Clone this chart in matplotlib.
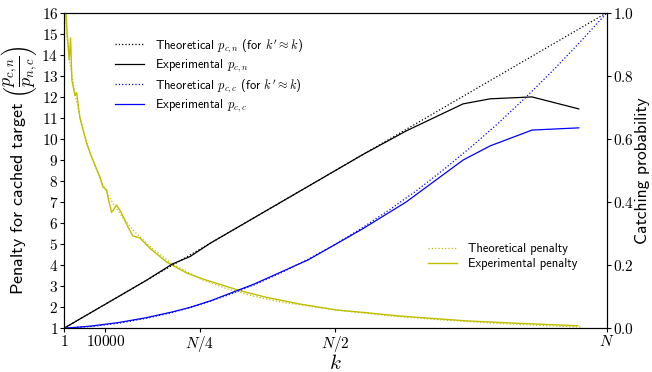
import matplotlib
matplotlib.use("Agg")
import matplotlib.pyplot as plt
import numpy as np

plt.rcParams["mathtext.fontset"] = "cm"
plt.rcParams["font.family"] = ["cmss10", "DejaVu Sans"]
plt.rcParams["axes.unicode_minus"] = False

N = 131072  # number of targets (x axis runs from 1 to N)

# experimental catching probabilities, k given as fraction of N
K_EXP = [0.0, 0.05, 0.10, 0.15, 0.20, 0.232, 0.27, 0.35, 0.45, 0.55, 0.63,
         0.735, 0.785, 0.862, 0.948]
PCN_EXP = [0.0, 0.05, 0.10, 0.15, 0.204, 0.227, 0.27, 0.35, 0.45, 0.55, 0.625,
           0.711, 0.727, 0.733, 0.695]
PCC_EXP = [0.0, 0.007, 0.018, 0.033, 0.052, 0.066, 0.087, 0.14, 0.217, 0.315,
           0.40, 0.533, 0.578, 0.628, 0.635]

# theoretical catching probabilities
K_TH_N = [0.0, 1.0]
PCN_TH = [0.0, 1.0]
K_TH_C = [0.0, 0.05, 0.10, 0.15, 0.20, 0.25, 0.30, 0.35, 0.40, 0.45, 0.50,
          0.55, 0.60, 0.65, 0.70, 0.75, 0.80, 0.85, 0.90, 0.95, 1.0]
PCC_TH = [0.0, 0.0056, 0.016, 0.031, 0.050, 0.075, 0.104, 0.137, 0.176, 0.219,
          0.266, 0.319, 0.376, 0.437, 0.504, 0.575, 0.650, 0.731, 0.816, 0.906, 1.0]

# penalty (left axis)
K_PEN_TH = [0.003, 0.005, 0.01, 0.02, 0.03, 0.04, 0.05, 0.07, 0.09, 0.11, 0.13,
            0.16, 0.20, 0.25, 0.30, 0.35, 0.40, 0.50, 0.60, 0.70, 0.80, 0.90, 0.955]
PEN_TH = [16.0, 15.0, 13.8, 12.2, 11.0, 10.0, 9.2, 7.9, 6.95, 6.2, 5.6,
          4.85, 4.05, 3.36, 2.88, 2.52, 2.25, 1.87, 1.59, 1.39, 1.23, 1.11, 1.06]
K_PEN_EXP = [0.003, 0.004, 0.0061, 0.0098, 0.0123, 0.0147, 0.0203, 0.0234, 0.0295,
             0.0418, 0.051, 0.0663, 0.0718, 0.0786, 0.081, 0.0878, 0.097, 0.106,
             0.118, 0.127, 0.140, 0.158, 0.189, 0.226, 0.256, 0.324, 0.373, 0.435,
             0.502, 0.557, 0.619, 0.742, 0.834, 0.946]
PEN_EXP = [16.0, 15.9, 15.0, 13.75, 14.8, 12.8, 12.06, 12.2, 11.0,
           9.8, 9.14, 8.19, 7.72, 7.57, 7.24, 6.5, 6.86, 6.48,
           5.81, 5.39, 5.29, 4.81, 4.15, 3.63, 3.34, 2.79, 2.47, 2.15,
           1.87, 1.74, 1.58, 1.35, 1.24, 1.12]

XTICKS = [1, 10000, N / 4, N / 2, N]
XTICKLABELS = ["$1$", "$10000$", "$N/4$", "$N/2$", "$N$"]


def ks(frac):
    return np.asarray(frac) * (N - 1) + 1


fig = plt.figure(figsize=(6.52, 3.72), dpi=100)
ax = fig.add_axes([0.098, 0.1175, 0.833, 0.8485])
ax2 = ax.twinx()

# probabilities on the right axis
ax2.plot(ks(K_TH_N), PCN_TH, color="k", ls=":", lw=0.9,
         label=r"Theoretical $p_{c,n}$ (for $k' \approx k$)")
ax2.plot(ks(K_EXP), PCN_EXP, color="k", lw=0.9, label=r"Experimental $p_{c,n}$")
ax2.plot(ks(K_TH_C), PCC_TH, color="b", ls=":", lw=0.9,
         label=r"Theoretical $p_{c,c}$ (for $k' \approx k$)")
ax2.plot(ks(K_EXP), PCC_EXP, color="b", lw=0.9, label=r"Experimental $p_{c,c}$")

# penalty on the left axis
ax.plot(ks(K_PEN_TH), PEN_TH, color="y", ls=":", lw=0.9, label="Theoretical penalty")
ax.plot(ks(K_PEN_EXP), PEN_EXP, color="y", lw=1.0, label="Experimental penalty")

ax.set_xlim(1, N)
ax.set_ylim(1, 16)
ax2.set_ylim(0, 1)
ax.set_yticks(range(1, 17))
ax.set_yticklabels([f"${v}$" for v in range(1, 17)])
ax2.set_yticks(np.arange(0, 1.01, 0.2))
ax2.set_yticklabels([f"${v:.1f}$" for v in np.arange(0, 1.01, 0.2)])
ax.set_xticks(XTICKS)
ax.set_xticklabels(XTICKLABELS)
for a in (ax, ax2):
    a.tick_params(labelsize=11, length=3, width=0.8, pad=1)

ax.set_xlabel("$k$", fontsize=15, labelpad=0)
ax.set_ylabel(r"Penalty for cached target $\left(\dfrac{p_{c,n}}{p_{n,c}}\right)$",
              fontsize=13, labelpad=2)
ax2.set_ylabel("Catching probability", fontsize=12.5, labelpad=1)

ax2.legend(loc="upper left", bbox_to_anchor=(0.085, 0.94), borderaxespad=0,
           frameon=False, fontsize=9, labelspacing=0.22, handlelength=2.3,
           handletextpad=0.9)
ax.legend(loc="upper left", bbox_to_anchor=(0.661, 0.285), borderaxespad=0,
          frameon=False, fontsize=9, labelspacing=0.25, handlelength=2.3,
          handletextpad=0.9)

fig.savefig("out.png", dpi=100)
